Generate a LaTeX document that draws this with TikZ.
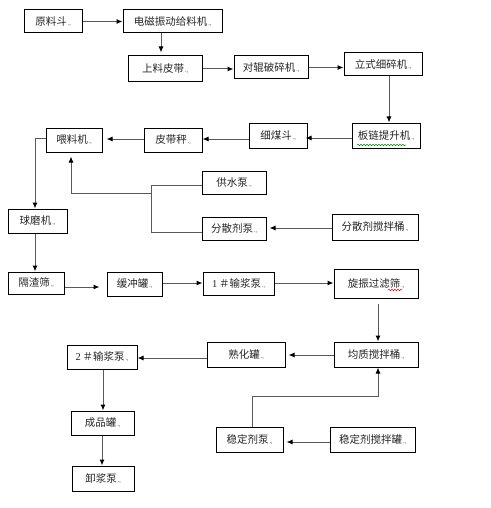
\documentclass[tikz,border=0pt]{standalone}
\usepackage{fontspec}
\setmainfont{Liberation Serif}
\newfontfamily\cjk{Noto Sans CJK SC}
\usetikzlibrary{arrows.meta,decorations.pathmorphing}
\newcommand\parmark{{\rmfamily\fontsize{6}{6}\selectfont\,.,}}
\tikzset{
 box/.style={draw=black, line width=1pt, inner sep=0pt, font=\cjk\fontsize{10.5}{12}\selectfont, text=black!85},
 link/.style={draw=black!65, line width=1pt},
 arr/.style={link, -{Latex[length=6pt,width=5pt,black]}},
 squig/.style={line width=0.5pt, decorate, decoration={snake, amplitude=0.8pt, segment length=3pt}},
}
\begin{document}
\begin{tikzpicture}[x=1pt,y=-1pt]
\fill[white] (0,0) rectangle (490,508);
\useasboundingbox (0,0) rectangle (490,508);
% boxes
\node[box, minimum width=58, minimum height=23] (yld) at (53,21.5) {原料斗\parmark};
\node[box, minimum width=99, minimum height=23] (dc) at (172.5,21.5) {电磁振动给料机\parmark};
\node[box, minimum width=74, minimum height=26] (slpd) at (165,69) {上料皮带\parmark};
\node[box, minimum width=74, minimum height=23] (dg) at (271,67.5) {对辊破碎机\parmark};
\node[box, minimum width=78, minimum height=23] (ls) at (383,64.5) {立式细碎机\parmark};
\node[box, minimum width=68, minimum height=25] (bl) at (386,135.5) {板链提升机\parmark};
\node[box, minimum width=58, minimum height=25] (xmd) at (278,135.5) {细煤斗\parmark};
\node[box, minimum width=58, minimum height=24] (pdc) at (173,140) {皮带秤\parmark};
\node[box, minimum width=56, minimum height=24] (wl) at (74,140) {喂料机\parmark};
\node[box, minimum width=59, minimum height=24] (qm) at (37.5,221) {球磨机\parmark};
\node[box, minimum width=64, minimum height=23] (gs) at (234,182.5) {供水泵\parmark};
\node[box, minimum width=64, minimum height=23] (fsb) at (234,228.5) {分散剂泵\parmark};
\node[box, minimum width=86, minimum height=26] (fst) at (375,227) {分散剂搅拌桶\parmark};
\node[box, minimum width=56, minimum height=22] (gz) at (36,283) {隔渣筛\parmark};
\node[box, minimum width=55, minimum height=24] (hc) at (134.5,284) {缓冲罐\parmark};
\node[box, minimum width=71, minimum height=23] (sba) at (238.5,283.5) {{\rmfamily 1}\,＃输浆泵\parmark};
\node[box, minimum width=84, minimum height=29] (xz) at (376,283.5) {旋振过滤筛\parmark};
\node[box, minimum width=84, minimum height=25] (jz) at (376,354.5) {均质搅拌桶\parmark};
\node[box, minimum width=78, minimum height=25] (sh) at (246,354.5) {熟化罐\parmark};
\node[box, minimum width=70, minimum height=24] (sbb) at (102,357) {{\rmfamily 2}\,＃输浆泵\parmark};
\node[box, minimum width=63, minimum height=24] (cp) at (102.5,423) {成品罐\parmark};
\node[box, minimum width=62, minimum height=25] (xj) at (103,478.5) {卸浆泵\parmark};
\node[box, minimum width=67, minimum height=25] (wdb) at (249.5,439.5) {稳定剂泵\parmark};
\node[box, minimum width=85, minimum height=25] (wdg) at (372.5,439.5) {稳定剂搅拌罐\parmark};
% spell-check marks
\draw[squig, green!55!black] (357,145) -- (406,145);
\draw[squig, red] (388,290) -- (402,290);
% helper coordinates
\coordinate (j) at (151,193);
\coordinate (k) at (252,396);
% connectors
\draw[arr] (yld.east) -- (yld.east -| dc.west);
\draw[arr, shorten >=3pt] (161,0 |- dc.south) -- (161,0 |- slpd.north);
\draw[arr] (slpd.east) -- (slpd.east -| dg.west);
\draw[arr] (dg.east) -- (dg.east -| ls.west);
\draw[arr] (389,0 |- ls.south) -- (389,0 |- bl.north);
\draw[arr, shorten >=-2pt] (bl.west |- 0,138) -- (xmd.east |- 0,138);
\draw[arr] (xmd.west |- 0,139) -- (pdc.east |- 0,139);
\draw[arr, shorten >=4pt] (pdc.west |- 0,139) -- (wl.east |- 0,139);
\draw[arr] (wl.west |- 0,138) -- (35,138) -- (35,0 |- qm.north);
\draw[link] (gs.west |- 0,185) -- (151,185) -- (151,232) -- (fsb.west |- 0,232);
\draw[arr, shorten >=4pt] (j) -- (71,193) -- (71,0 |- wl.south);
\draw[arr, shorten >=3pt] (fst.west |- 0,228) -- (fsb.east |- 0,228);
\draw[arr] (35,0 |- qm.south) -- (35,0 |- gz.north);
\draw[arr, shorten >=7pt] (gz.east |- 0,287) -- (hc.west |- 0,287);
\draw[arr] (hc.east |- 0,283) -- (sba.west |- 0,283);
\draw[arr] (sba.east |- 0,283) -- (xz.west |- 0,283);
\draw[arr, shorten <=5pt] (378,0 |- xz.south) -- (378,0 |- jz.north);
\draw[arr, shorten >=3pt] (jz.west |- 0,355) -- (sh.east |- 0,355);
\draw[arr] (sh.west |- 0,358) -- (sbb.east |- 0,358);
\draw[arr] (103,0 |- sbb.south) -- (103,0 |- cp.north);
\draw[arr] (102,0 |- cp.south) -- (102,0 |- xj.north);
\draw[arr, shorten >=3pt] (wdg.west |- 0,442) -- (wdb.east |- 0,442);
\draw[arr] (252,0 |- wdb.north) -- (k) -- (378,396) -- (378,0 |- jz.south);
\end{tikzpicture}
\end{document}
